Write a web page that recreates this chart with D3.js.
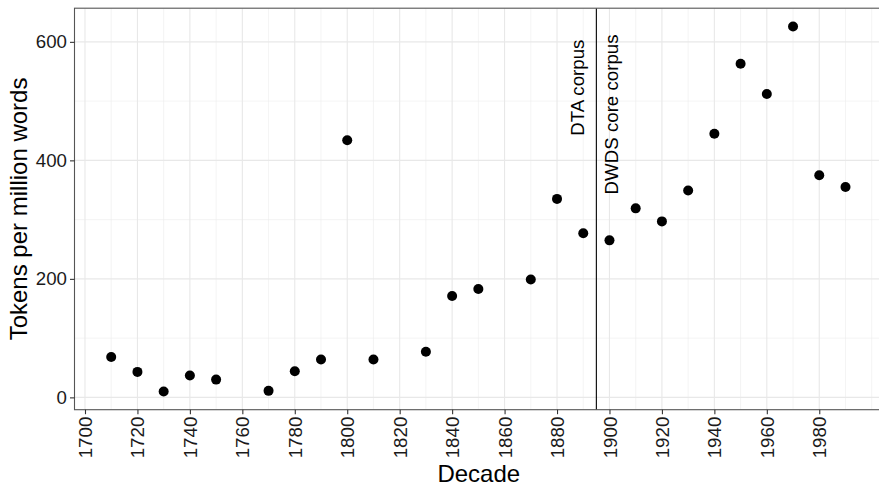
<!DOCTYPE html>
<html>
<head>
<meta charset="utf-8">
<script src="https://cdn.jsdelivr.net/npm/d3@7"></script>
<style>
  html, body { margin: 0; padding: 0; background: #fff; }
  svg { display: block; font-family: "Liberation Sans", Arial, sans-serif; }
</style>
</head>
<body>
<svg id="chart" width="879" height="486"></svg>
<script>
// ---- data ----
const decades = [1710, 1720, 1730, 1740, 1750, 1770, 1780, 1790, 1800, 1810, 1830, 1840, 1850, 1870, 1880, 1890,
                 1900, 1910, 1920, 1930, 1940, 1950, 1960, 1970, 1980, 1990];
const tokens  = [68, 43, 10, 37, 30, 11, 44, 64, 434, 64, 77, 171, 183, 199, 335, 277,
                 265, 319, 297, 349, 445, 563, 512, 626, 375, 355];
const xTicks = [1700, 1720, 1740, 1760, 1780, 1800, 1820, 1840, 1860, 1880, 1900, 1920, 1940, 1960, 1980];
const xMinor = [1710, 1730, 1750, 1770, 1790, 1810, 1830, 1850, 1870, 1890, 1910, 1930, 1950, 1970, 1990, 2000];
const yTicks = [0, 200, 400, 600];
const yMinor = [100, 300, 500];
const corpusBoundary = 1895;
const annotLabels = ["DTA corpus", "DWDS core corpus"];
const annotX = [1890.3, 1903.2];
const annotY = [522.7, 477.5];

(function () {
// ---- layout ----
const svg = d3.select("#chart");
const pL = 74.5, pT = 8.2, pB = 409.7, pR = 882.2;

const x = d3.scaleLinear().domain([1696, 2004]).range([pL, pR]);
const y = d3.scaleLinear().domain([-20.8, 656.8]).range([pB, pT]);

svg.append("defs").append("clipPath").attr("id", "panel")
  .append("rect").attr("x", pL).attr("y", pT).attr("width", pR - pL).attr("height", pB - pT);

const g = svg.append("g");

const grid = g.append("g").attr("clip-path", "url(#panel)");
// minor grid
grid.selectAll(".xminor").data(xMinor).join("line").attr("class", "xminor")
  .attr("x1", d => x(d)).attr("x2", d => x(d)).attr("y1", pT).attr("y2", pB)
  .attr("stroke", "#ededed").attr("stroke-width", 0.6);
grid.selectAll(".yminor").data(yMinor).join("line").attr("class", "yminor")
  .attr("y1", d => y(d)).attr("y2", d => y(d)).attr("x1", pL).attr("x2", pR)
  .attr("stroke", "#ededed").attr("stroke-width", 0.6);
// major grid
grid.selectAll(".xmajor").data(xTicks).join("line").attr("class", "xmajor")
  .attr("x1", d => x(d)).attr("x2", d => x(d)).attr("y1", pT).attr("y2", pB)
  .attr("stroke", "#e8e8e8").attr("stroke-width", 1.1);
grid.selectAll(".ymajor").data(yTicks).join("line").attr("class", "ymajor")
  .attr("y1", d => y(d)).attr("y2", d => y(d)).attr("x1", pL).attr("x2", pR)
  .attr("stroke", "#e8e8e8").attr("stroke-width", 1.1);

// vertical corpus boundary
g.append("line")
  .attr("x1", x(corpusBoundary)).attr("x2", x(corpusBoundary))
  .attr("y1", pT).attr("y2", pB)
  .attr("stroke", "#000").attr("stroke-width", 1.1);

// points
g.append("g").selectAll("circle").data(decades).join("circle")
  .attr("cx", d => x(d))
  .attr("cy", (d, i) => y(tokens[i]))
  .attr("r", 5)
  .attr("fill", "#000");

// annotations
g.append("g").selectAll("text").data(annotLabels).join("text")
  .attr("transform", (d, i) => `translate(${x(annotX[i])},${y(annotY[i])}) rotate(-90)`)
  .attr("text-anchor", "middle")
  .attr("font-size", "18.7px")
  .attr("fill", "#000")
  .text(d => d);

// panel border
g.append("rect")
  .attr("x", pL).attr("y", pT).attr("width", pR - pL).attr("height", pB - pT)
  .attr("fill", "none").attr("stroke", "#555").attr("stroke-width", 1.1);

// x axis
const xAxis = d3.axisBottom(x).tickValues(xTicks).tickFormat(d3.format("d")).tickSize(4.5).tickPadding(3);
const xg = g.append("g").attr("transform", `translate(0,${pB})`).call(xAxis);
xg.select(".domain").remove();
xg.selectAll(".tick line").attr("stroke", "#333").attr("stroke-width", 1.1);
xg.selectAll(".tick text")
  .attr("font-size", "18.7px").attr("fill", "#1a1a1a")
  .attr("font-family", "Liberation Sans, Arial, sans-serif")
  .attr("transform", "rotate(-90)")
  .attr("text-anchor", "end")
  .attr("x", -7).attr("y", 0).attr("dy", "0.35em");

// y axis
const yAxis = d3.axisLeft(y).tickValues(yTicks).tickFormat(d3.format("d")).tickSize(4.5).tickPadding(3);
const yg = g.append("g").attr("transform", `translate(${pL},0)`).call(yAxis);
yg.select(".domain").remove();
yg.selectAll(".tick line").attr("stroke", "#333").attr("stroke-width", 1.1);
yg.selectAll(".tick text")
  .attr("font-size", "18.7px").attr("fill", "#1a1a1a")
  .attr("font-family", "Liberation Sans, Arial, sans-serif");

// axis titles
svg.append("text")
  .attr("x", (pL + 879) / 2 + 2).attr("y", 481.5)
  .attr("text-anchor", "middle")
  .attr("font-size", "24px").attr("fill", "#000")
  .text("Decade");
svg.append("text")
  .attr("transform", `translate(27.3,${(pT + pB) / 2}) rotate(-90)`)
  .attr("text-anchor", "middle")
  .attr("font-size", "24px").attr("fill", "#000")
  .text("Tokens per million words");
})();
</script>
</body>
</html>
